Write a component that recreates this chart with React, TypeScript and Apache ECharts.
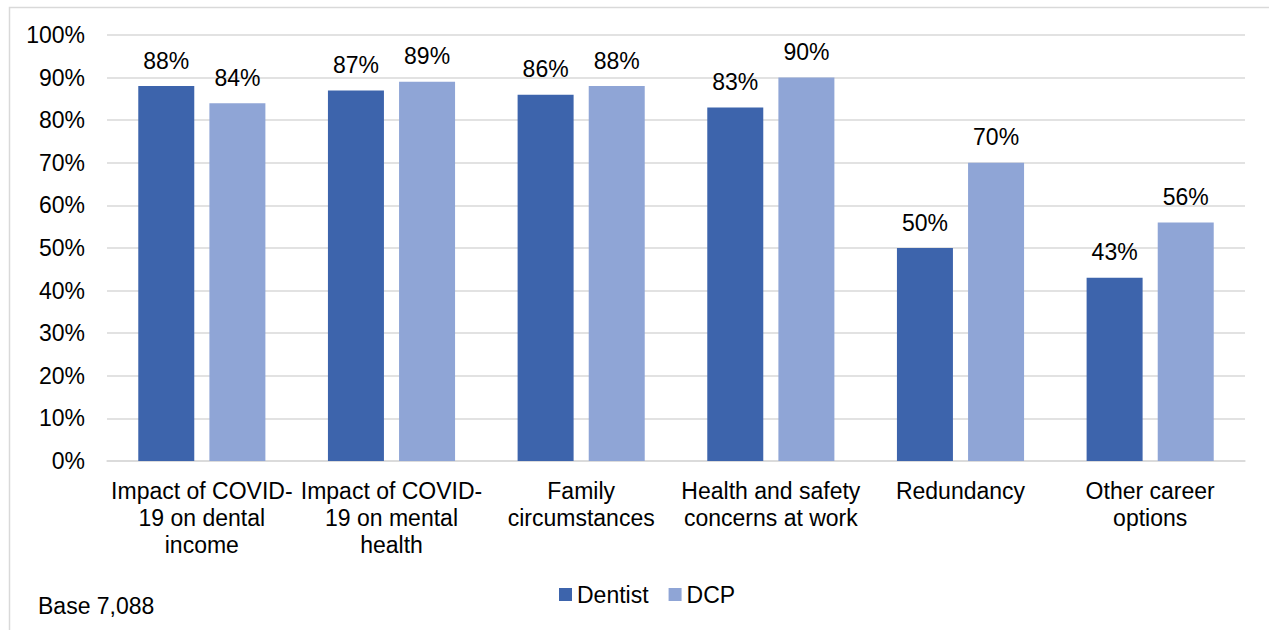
import React, { useEffect, useRef } from "react";
import * as echarts from "echarts";

const categories = [
  "Impact of COVID-\n19 on dental\nincome",
  "Impact of COVID-\n19 on mental\nhealth",
  "Family\ncircumstances",
  "Health and safety\nconcerns at work",
  "Redundancy",
  "Other career\noptions",
];
const dentist = [88, 87, 86, 83, 50, 43];
const dcp = [84, 89, 88, 90, 70, 56];
const seriesNames = ["Dentist", "DCP"];
const colors = ["#3d64ac", "#8fa5d6"];
const font = "'Liberation Sans', Arial, sans-serif";
const fs = 23;

export default function App() {
  const ref = useRef<HTMLDivElement>(null);
  useEffect(() => {
    if (!ref.current) return;
    const chart = echarts.init(ref.current, undefined, { renderer: "svg" });
    const labelStyle = {
      show: true,
      position: "top" as const,
      distance: 14,
      formatter: "{c}%",
      color: "#000",
      fontSize: fs,
      fontFamily: font,
    };
    chart.setOption({
      animation: false,
      backgroundColor: "#fff",
      textStyle: { fontFamily: font },
      grid: { left: 107, right: 24, top: 35, bottom: 169, containLabel: false },
      legend: {
        bottom: 19,
        left: 554,
        itemWidth: 13,
        itemHeight: 13,
        itemGap: 20,
        icon: "rect",
        textStyle: { fontSize: fs, color: "#000", fontFamily: font },
        data: seriesNames,
      },
      xAxis: {
        type: "category",
        data: categories,
        axisLine: { lineStyle: { color: "#d9d9d9", width: 1.5 } },
        axisTick: { show: false },
        axisLabel: {
          interval: 0,
          color: "#000",
          fontSize: fs,
          fontFamily: font,
          lineHeight: 27,
          margin: 16,
        },
      },
      yAxis: {
        type: "value",
        min: 0,
        max: 100,
        interval: 10,
        axisLine: { show: false },
        axisTick: { show: false },
        axisLabel: {
          formatter: "{value}%",
          color: "#000",
          fontSize: fs,
          fontFamily: font,
          margin: 22,
        },
        splitLine: { lineStyle: { color: "#d9d9d9", width: 1.5 } },
      },
      graphic: [
        {
          type: "rect",
          left: 7,
          top: 5,
          shape: { width: 1400, height: 800 },
          style: { fill: "none", stroke: "#d9d9d9", lineWidth: 1.5 },
          silent: true,
        },
        {
          type: "text",
          left: 38,
          top: 594,
          style: { text: "Base 7,088", fontSize: fs, fill: "#000", fontFamily: font },
        },
      ],
      series: [
        {
          name: seriesNames[0],
          type: "bar",
          data: dentist,
          barWidth: 56,
          barGap: "27%",
          itemStyle: { color: colors[0] },
          label: labelStyle,
        },
        {
          name: seriesNames[1],
          type: "bar",
          data: dcp,
          barWidth: 56,
          itemStyle: { color: colors[1] },
          label: labelStyle,
        },
      ],
    });
    return () => chart.dispose();
  }, []);
  return (
    <div
      ref={ref}
      style={{ position: "fixed", left: 0, top: 0, width: 1269, height: 630 }}
    />
  );
}
